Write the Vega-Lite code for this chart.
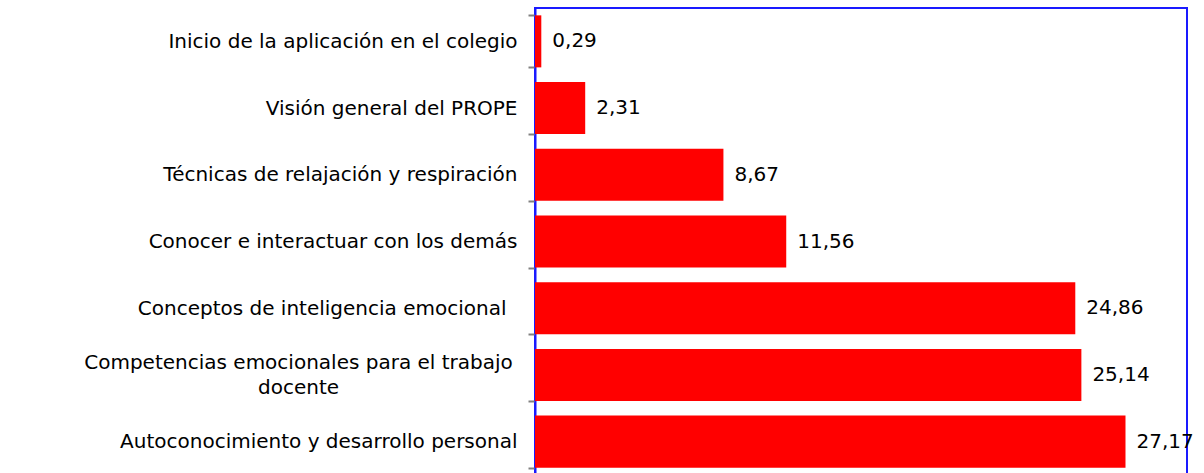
{
  "$schema": "https://vega.github.io/schema/vega-lite/v6.json",
  "width": 652,
  "height": 467,
  "autosize": {"type": "none"},
  "padding": {"left": 535, "top": 8, "right": 17, "bottom": 0},
  "background": "#ffffff",
  "config": {
    "locale": {"number": {"decimal": ",", "thousands": ".", "grouping": [3], "currency": ["", " €"]}},
    "view": {"stroke": "#1a1aff", "strokeWidth": 2},
    "font": "DejaVu Sans"
  },
  "data": {
    "values": [
      {"tema": "Inicio de la aplicación en el colegio", "valor": 0.29},
      {"tema": "Visión general del PROPE", "valor": 2.31},
      {"tema": "Técnicas de relajación y respiración", "valor": 8.67},
      {"tema": "Conocer e interactuar con los demás", "valor": 11.56},
      {"tema": "Conceptos de inteligencia emocional", "valor": 24.86},
      {"tema": "Competencias emocionales para el trabajo docente", "valor": 25.14},
      {"tema": "Autoconocimiento y desarrollo personal", "valor": 27.17}
    ]
  },
  "encoding": {
    "y": {
      "field": "tema",
      "type": "nominal",
      "sort": null,
      "scale": {"paddingInner": 0.22, "paddingOuter": 0.11},
      "axis": {
        "title": null,
        "domain": true,
        "domainColor": "#1a1aff",
        "domainWidth": 2,
        "tickBand": "extent",
        "tickColor": "#808080",
        "tickWidth": 2,
        "tickSize": 7,
        "labelFont": "DejaVu Sans",
        "labelFontSize": 20,
        "labelColor": "#000000",
        "labelLimit": 600,
        "labelLineHeight": 25,
        "labelExpr": "datum.value == 'Competencias emocionales para el trabajo docente' ? ['Competencias emocionales para el trabajo', 'docente'] : datum.label",
        "labelAlign": {"condition": {"test": "datum.value == 'Competencias emocionales para el trabajo docente'", "value": "center"}, "value": "right"},
        "labelOffset": {"condition": {"test": "datum.value == 'Competencias emocionales para el trabajo docente'", "value": -12}, "value": 0},
        "labelPadding": {"condition": [
          {"test": "datum.value == 'Competencias emocionales para el trabajo docente'", "value": 230},
          {"test": "datum.value == 'Conceptos de inteligencia emocional'", "value": 22}
        ], "value": 11}
      }
    },
    "x": {
      "field": "valor",
      "type": "quantitative",
      "scale": {"domain": [0, 30], "nice": false},
      "axis": null
    }
  },
  "layer": [
    {"mark": {"type": "bar", "color": "#ff0000"}},
    {
      "mark": {"type": "text", "align": "left", "baseline": "middle", "dx": 11, "fontSize": 20, "font": "DejaVu Sans", "color": "#000000"},
      "encoding": {"text": {"field": "valor", "type": "quantitative", "format": ".2f"}}
    }
  ]
}
